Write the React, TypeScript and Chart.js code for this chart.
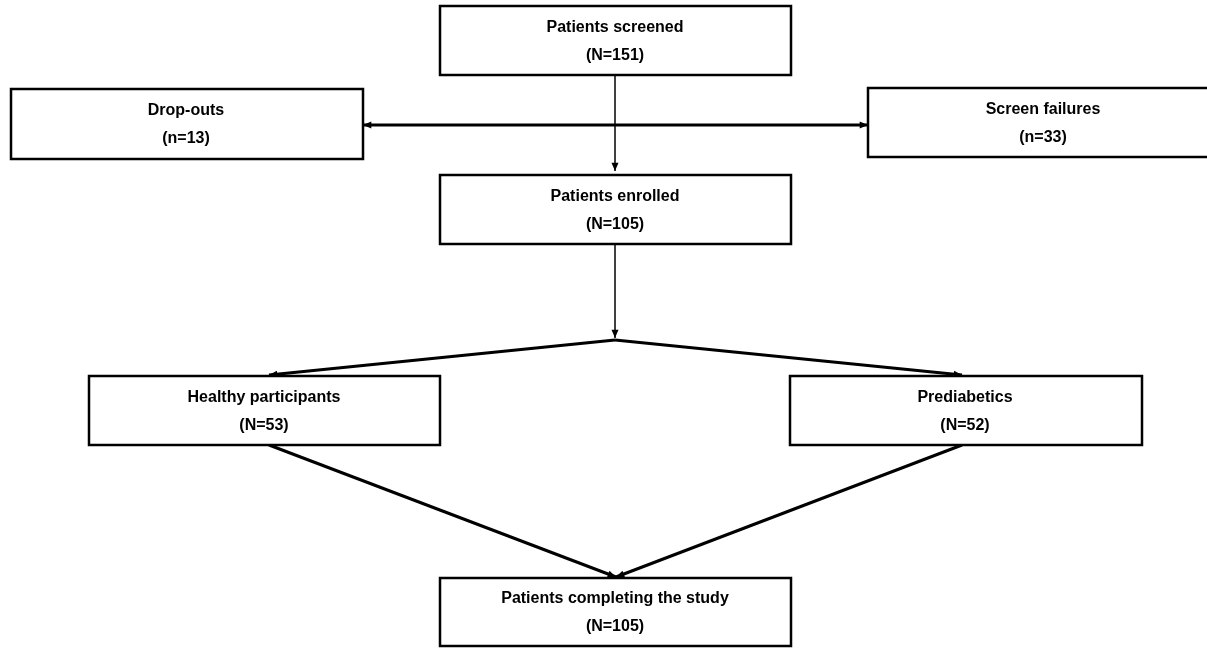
import React, { useEffect, useRef } from "react";
import { Chart, registerables } from "chart.js";
Chart.register(...registerables);

const boxLabels = ["Patients screened", "Drop-outs", "Screen failures", "Patients enrolled", "Healthy participants", "Prediabetics", "Patients completing the study"];
const boxCounts = ["(N=151)", "(n=13)", "(n=33)", "(N=105)", "(N=53)", "(N=52)", "(N=105)"];
const boxLeft = [440, 11, 868, 440, 89, 790, 440];
const boxRight = [791, 363, 1210, 791, 440, 1142, 791];
const boxTop = [6, 89, 88, 175, 376, 376, 578];
const boxBottom = [75, 159, 157, 244, 445, 445, 646];
const textX = [615, 186, 1043, 615, 264, 965, 615];
const linkX1 = [615, 615, 615, 615, 615, 615, 269, 962];
const linkY1 = [75, 125, 125, 244, 340, 340, 445, 445];
const linkX2 = [615, 363, 868, 615, 269, 962, 616, 616];
const linkY2 = [171, 125, 125, 338, 375, 375, 577, 577];
const linkWidth = [1.5, 3, 3, 1.5, 3, 3, 3, 3];
const linkHead = [1, 1, 1, 1, 1, 1, 1, 1];

const flowPlugin = {
  id: "flow",
  afterDraw(chart: any) {
    const ctx = chart.ctx;
    const xs = chart.scales.x, ys = chart.scales.y;
    const px = (v: number) => xs.getPixelForValue(v);
    const py = (v: number) => ys.getPixelForValue(v);
    ctx.save();
    ctx.fillStyle = "#fff";
    ctx.fillRect(0, 0, chart.width, chart.height);
    ctx.strokeStyle = "#000";
    ctx.fillStyle = "#000";
    for (let i = 0; i < linkX1.length; i++) {
      const x1 = px(linkX1[i]), y1 = py(linkY1[i]), x2 = px(linkX2[i]), y2 = py(linkY2[i]);
      ctx.lineWidth = linkWidth[i];
      ctx.beginPath(); ctx.moveTo(x1, y1); ctx.lineTo(x2, y2); ctx.stroke();
      if (linkHead[i]) {
        const a = Math.atan2(y2 - y1, x2 - x1), L = 9, w = 0.4;
        ctx.beginPath();
        ctx.moveTo(x2, y2);
        ctx.lineTo(x2 - L * Math.cos(a - w), y2 - L * Math.sin(a - w));
        ctx.lineTo(x2 - L * Math.cos(a + w), y2 - L * Math.sin(a + w));
        ctx.closePath(); ctx.fill();
      }
    }
    ctx.lineWidth = 2.5;
    ctx.font = "bold 16px 'Liberation Sans', Arial, sans-serif";
    ctx.textAlign = "center";
    ctx.textBaseline = "middle";
    for (let i = 0; i < boxLabels.length; i++) {
      const l = px(boxLeft[i]), r = px(boxRight[i]), t = py(boxTop[i]), b = py(boxBottom[i]);
      ctx.fillStyle = "#fff";
      ctx.fillRect(l, t, r - l, b - t);
      ctx.strokeRect(l, t, r - l, b - t);
      ctx.fillStyle = "#000";
      const mid = (t + b) / 2;
      ctx.fillText(boxLabels[i], px(textX[i]), mid - 13);
      ctx.fillText(boxCounts[i], px(textX[i]), mid + 15);
    }
    ctx.restore();
  },
};

export default function App() {
  const ref = useRef<HTMLCanvasElement>(null);
  useEffect(() => {
    document.body.style.margin = "0";
    const chart = new Chart(ref.current!, {
      type: "scatter",
      data: { datasets: [{ data: [], pointRadius: 0 }] },
      options: {
        animation: false,
        responsive: false,
        layout: { padding: 0 },
        plugins: { legend: { display: false }, tooltip: { enabled: false } },
        scales: {
          x: { type: "linear", min: 0, max: 1207, display: false },
          y: { type: "linear", min: 0, max: 648, reverse: true, display: false },
        },
      },
      plugins: [flowPlugin],
    });
    return () => chart.destroy();
  }, []);
  return <canvas ref={ref} width={1207} height={648} style={{ display: "block" }} />;
}
